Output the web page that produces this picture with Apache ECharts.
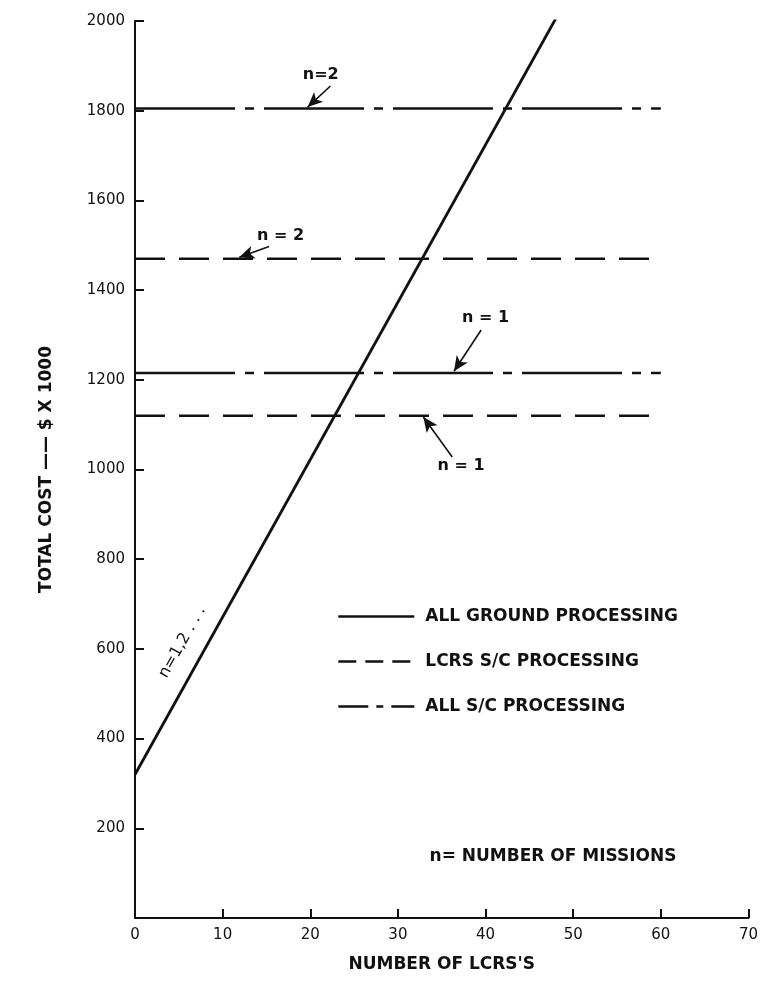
<!DOCTYPE html>
<html>
<head>
<meta charset="utf-8">
<script src="https://cdn.jsdelivr.net/npm/echarts@6/dist/echarts.min.js"></script>
<style>
  html, body { margin: 0; padding: 0; background: #ffffff; }
  #chart { width: 761px; height: 993px; }
</style>
</head>
<body>
<div id="chart"></div>
<script>
// ---- data ----
const xTicks = [0, 10, 20, 30, 40, 50, 60, 70];
const yTicks = [200, 400, 600, 800, 1000, 1200, 1400, 1600, 1800, 2000];
const seriesNames = ['ALL GROUND PROCESSING', 'LCRS S/C PROCESSING', 'ALL S/C PROCESSING'];
const groundLine = [[0, 320], [48, 2005]];
const lcrsN1 = [[0, 1120], [60, 1120]];
const lcrsN2 = [[0, 1470], [60, 1470]];
const allScN1 = [[0, 1215], [60, 1215]];
const allScN2 = [[0, 1805], [60, 1805]];
const noteTexts = ['n=2', 'n = 2', 'n = 1', 'n = 1', 'n= NUMBER OF MISSIONS'];
const notePos = [[21.2, 1880], [16.6, 1522], [40.0, 1338], [37.2, 1008], [47.7, 138]];
const slopeNote = { text: 'n=1,2 . . .', pos: [5.4, 615] };
const arrows = [
  [[22.3, 1855], [19.7, 1808]],
  [[15.3, 1497], [11.9, 1473]],
  [[39.5, 1311], [36.4, 1219]],
  [[36.2, 1028], [32.9, 1117]]
];

const FONT = 'DejaVu Sans';
const INK = '#111111';
const dashDot = [100, 10, 9, 10];
const dashed = [30, 14];

const chart = echarts.init(document.getElementById('chart'), null, { renderer: 'canvas' });

function hLine(name, data, type) {
  return {
    name: name, type: 'line', data: data, symbol: 'none', silent: true,
    lineStyle: { color: INK, width: 2.4, type: type },
    itemStyle: { color: INK }, z: 2
  };
}

const textStyleWide = { fontFamily: FONT, fontSize: 17, fontWeight: 'bold', color: INK };
const noteStyle = { fontFamily: FONT, fontSize: 16, fontWeight: 'bold', color: INK };

const option = {
  backgroundColor: '#ffffff',
  animation: false,
  grid: { left: 135, right: 9, top: 21, bottom: 75, containLabel: false },
  legend: {
    orient: 'vertical', left: 332, top: 603, itemWidth: 76, itemHeight: 14, itemGap: 28,
    selectedMode: false,
    itemStyle: { color: 'rgba(0,0,0,0)', borderColor: 'rgba(0,0,0,0)', borderWidth: 0 },
    textStyle: Object.assign({}, textStyleWide, { padding: [0, 0, 0, 6] }),
    data: [
      { name: seriesNames[0], lineStyle: { type: 'solid', width: 2.6, color: INK } },
      { name: seriesNames[1], lineStyle: { type: [18, 9], width: 2.6, color: INK } },
      { name: seriesNames[2], lineStyle: { type: [30, 8, 7, 8], width: 2.6, color: INK } }
    ]
  },
  xAxis: {
    type: 'value', min: 0, max: 70, interval: 10,
    name: "NUMBER OF LCRS'S", nameLocation: 'middle', nameGap: 38,
    nameTextStyle: textStyleWide,
    axisLine: { onZero: false, lineStyle: { color: INK, width: 2 } },
    axisTick: { inside: true, length: 9, lineStyle: { color: INK, width: 2 } },
    axisLabel: { fontFamily: FONT, fontSize: 15, color: INK, margin: 10,
      formatter: v => xTicks.includes(v) ? String(v) : '' },
    splitLine: { show: false }
  },
  yAxis: {
    type: 'value', min: 0, max: 2000, interval: 200,
    name: 'TOTAL COST —— $ X 1000', nameLocation: 'middle', nameGap: 80,
    nameTextStyle: textStyleWide,
    axisLine: { onZero: false, lineStyle: { color: INK, width: 2 } },
    axisTick: { inside: true, length: 9, lineStyle: { color: INK, width: 2 } },
    axisLabel: { fontFamily: FONT, fontSize: 15, color: INK, margin: 10,
      formatter: v => yTicks.includes(v) ? String(v) : '' },
    splitLine: { show: false }
  },
  series: [
    {
      name: seriesNames[0], type: 'line', data: groundLine, symbol: 'none', silent: true,
      lineStyle: { color: INK, width: 2.8, type: 'solid' }, itemStyle: { color: INK }, z: 3
    },
    hLine(seriesNames[1], lcrsN2, dashed),
    hLine(seriesNames[1], lcrsN1, dashed),
    hLine(seriesNames[2], allScN2, dashDot),
    hLine(seriesNames[2], allScN1, dashDot),
    {
      name: 'notes', type: 'scatter', symbolSize: 0, silent: true, z: 5,
      itemStyle: { color: INK, opacity: 1 },
      data: noteTexts.map((t, i) => ({ name: t, value: notePos[i],
          label: i === 4 ? { fontSize: 17 } : {} }))
        .concat([{ name: slopeNote.text, value: slopeNote.pos,
          label: { rotate: 60.7, fontWeight: 'normal' } }]),
      label: Object.assign({
        show: true, position: 'inside', formatter: p => p.name,
        textBorderWidth: 0, textBorderColor: 'transparent', opacity: 1
      }, noteStyle),
      markLine: {
        silent: true, symbol: ['none', 'arrow'], symbolSize: [10, 15],
        label: { show: false },
        lineStyle: { color: INK, width: 1.6, type: 'solid' },
        itemStyle: { color: INK },
        data: arrows.map(a => [{ coord: a[0] }, { coord: a[1] }])
      }
    }
  ]
};
chart.setOption(option);
</script>
</body>
</html>
